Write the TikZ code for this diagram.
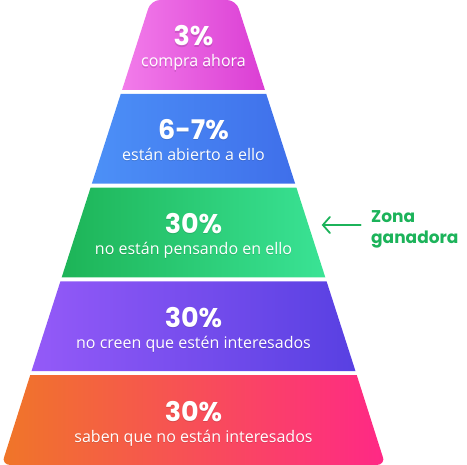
\documentclass[tikz,border=0pt]{standalone}
\usepackage{fontspec}
\setmainfont{Open Sans}
\newfontfamily\numfont{Poppins}
\usetikzlibrary{arrows.meta}
\definecolor{pinkA}{HTML}{F27CEA}
\definecolor{pinkB}{HTML}{DB3ED4}
\definecolor{blueA}{HTML}{4C90F7}
\definecolor{blueB}{HTML}{3F6FEA}
\definecolor{greenA}{HTML}{1DB457}
\definecolor{greenB}{HTML}{3AE395}
\definecolor{purpA}{HTML}{945AF8}
\definecolor{purpB}{HTML}{5840E2}
\definecolor{oraA}{HTML}{F07628}
\definecolor{oraB}{HTML}{FF2886}
\definecolor{zgreen}{HTML}{1CB35A}
\tikzset{
  numtxt/.style={anchor=base, text=white, inner sep=0pt, font=\numfont\bfseries\fontsize{27}{30}\selectfont},
  labtxt/.style={anchor=base, text=white, inner sep=0pt, font=\fontsize{16}{19}\selectfont},
  shadowtxt/.style={text=black, opacity=0.12},
  zarrow/.style={draw=zgreen, line width=1.8pt, line cap=round, -{Straight Barb[length=7pt,width=16pt,line cap=round]}},
  zlab/.style={anchor=base west, align=left, inner sep=0pt, text=zgreen, font=\numfont\bfseries\fontsize{17}{20.3}\selectfont}
}
\newcommand\TierText[5]{%
  \node[numtxt,shadowtxt] at (193.5,#1+1.2) {#3};
  \node[labtxt,shadowtxt] at (193.5,#2+1.2) {#5};
  \node[numtxt] (#4n) at (193.5,#1) {#3};
  \node[labtxt] (#4l) at (193.5,#2) {#5};
}
\begin{document}
\begin{tikzpicture}[x=1pt,y=-1pt]
\useasboundingbox (0,0) rectangle (467,465);
\begin{scope}
  \clip[rounded corners=9pt] (1.27,465) -- (151,0) -- (236,0) -- (385.73,465) -- cycle;
  \shade[left color=pinkA, right color=pinkB] (151,-2) -- (236,-2) -- (264.92,89.8) -- (122.08,89.8) -- cycle;
  \shade[left color=blueA, right color=blueB] (120.80,93.8) -- (266.20,93.8) -- (295.12,183.6) -- (91.88,183.6) -- cycle;
  \shade[left color=greenA, right color=greenB] (90.59,187.6) -- (296.41,187.6) -- (325.32,277.4) -- (61.68,277.4) -- cycle;
  \shade[left color=purpA, right color=purpB] (60.39,281.4) -- (326.61,281.4) -- (355.53,371.2) -- (31.47,371.2) -- cycle;
  \shade[left color=oraA, right color=oraB] (30.19,375.2) -- (356.81,375.2) -- (386,467) -- (1,467) -- cycle;
\end{scope}
\TierText{46}{67}{3\%}{t1}{compra ahora}
\TierText{139.8}{160.8}{6-7\%}{t2}{están abierto a ello}
\TierText{233.6}{254.6}{30\%}{t3}{no están pensando en ello}
\TierText{327.4}{348.4}{30\%}{t4}{no creen que estén interesados}
\TierText{421.2}{442.2}{30\%}{t5}{saben que no están interesados}
\node[zlab] (zona) at (371,243.3) {Zona\\ganadora};
\coordinate (astart) at (360.7,225);
\coordinate (atip) at (321.7,225);
\draw[zarrow] (astart) -- (atip);
\end{tikzpicture}
\end{document}
